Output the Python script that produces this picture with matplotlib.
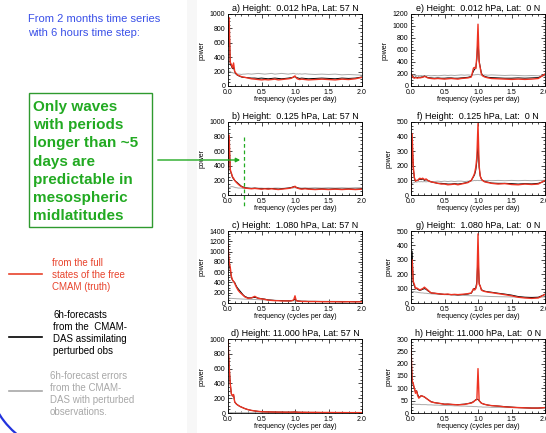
import matplotlib
matplotlib.use("Agg")
import matplotlib.pyplot as plt
from matplotlib.patches import Rectangle, FancyArrowPatch, Arc
from matplotlib.ticker import MultipleLocator, AutoMinorLocator

plt.rcParams['font.family'] = ['Liberation Sans', 'DejaVu Sans']

W, H = 546, 433

freq = [0.0, 0.017, 0.033, 0.05, 0.067, 0.083, 0.1, 0.117, 0.133, 0.15, 0.175, 0.2,
        0.225, 0.25, 0.3, 0.35, 0.4, 0.45, 0.5, 0.55, 0.6, 0.65, 0.7, 0.75, 0.8, 0.85,
        0.9, 0.933, 0.95, 0.967, 0.983, 1.0, 1.017, 1.033, 1.05, 1.067, 1.1, 1.15, 1.2,
        1.3, 1.4, 1.5, 1.6, 1.7, 1.8, 1.9, 2.0]

# panel a: 0.012 hPa, 57N
red_a = [600, 950, 330, 300, 250, 320, 200, 180, 160, 150, 140, 130, 125, 120, 110, 100, 95, 90, 85, 90, 85, 90, 95, 85, 90, 95, 100, 105, 110, 120, 130, 140, 115, 100, 95, 90, 95, 90, 85, 90, 95, 90, 85, 95, 90, 100, 120]
black_a = [550, 850, 300, 280, 240, 260, 200, 170, 155, 145, 135, 125, 120, 120, 115, 110, 110, 105, 110, 105, 100, 105, 110, 105, 100, 105, 110, 115, 115, 120, 125, 130, 120, 115, 110, 105, 110, 105, 100, 105, 110, 105, 100, 110, 105, 110, 125]
gray_a = [200, 210, 200, 190, 185, 180, 175, 170, 170, 165, 165, 160, 165, 165, 170, 165, 170, 175, 170, 165, 170, 175, 165, 170, 175, 170, 165, 170, 170, 175, 175, 170, 165, 170, 165, 170, 165, 170, 165, 160, 165, 160, 165, 155, 160, 155, 150]

# panel b: 0.125 hPa, 57N
red_b = [400, 820, 350, 300, 250, 230, 200, 180, 165, 150, 130, 115, 105, 95, 90, 85, 90, 85, 80, 85, 80, 85, 80, 75, 80, 85, 90, 95, 100, 105, 110, 120, 105, 95, 90, 85, 80, 85, 80, 75, 80, 75, 80, 75, 80, 75, 80]
black_b = [380, 750, 330, 300, 240, 220, 200, 185, 175, 160, 140, 120, 110, 100, 95, 90, 95, 90, 85, 90, 85, 90, 85, 80, 85, 90, 95, 100, 105, 110, 115, 115, 105, 100, 95, 90, 85, 90, 85, 80, 85, 80, 85, 80, 85, 80, 85]
gray_b = [80, 95, 110, 115, 115, 110, 105, 100, 100, 95, 95, 95, 90, 95, 90, 95, 90, 95, 95, 90, 95, 90, 95, 95, 90, 95, 95, 100, 100, 95, 100, 100, 95, 100, 95, 100, 95, 100, 95, 100, 95, 100, 95, 100, 95, 100, 100]

# panel c: 1.080 hPa, 57N
red_c = [1150, 800, 700, 520, 450, 420, 380, 330, 290, 250, 210, 180, 150, 120, 90, 100, 130, 90, 80, 70, 55, 50, 45, 45, 40, 40, 40, 40, 45, 50, 70, 140, 50, 40, 35, 35, 30, 30, 28, 28, 25, 25, 25, 22, 25, 22, 25]
black_c = [1000, 750, 650, 500, 440, 420, 400, 350, 310, 280, 240, 200, 160, 130, 100, 100, 110, 95, 85, 75, 60, 55, 50, 48, 45, 42, 42, 42, 45, 50, 60, 80, 50, 42, 38, 36, 32, 32, 30, 30, 28, 28, 27, 25, 27, 25, 27]
gray_c = [90, 95, 90, 90, 88, 88, 85, 85, 82, 82, 80, 78, 76, 75, 72, 70, 68, 65, 62, 60, 58, 55, 52, 50, 48, 46, 45, 44, 43, 42, 42, 42, 41, 40, 40, 39, 38, 37, 36, 35, 34, 33, 32, 31, 30, 30, 30]

# panel d: 11.000 hPa, 57N
red_d = [980, 650, 400, 260, 230, 250, 150, 130, 115, 105, 90, 80, 70, 60, 45, 35, 28, 22, 18, 16, 15, 14, 13, 12, 12, 11, 11, 11, 12, 12, 13, 15, 12, 11, 10, 10, 9, 9, 8, 8, 7, 7, 6, 6, 5, 5, 5]
black_d = [950, 640, 400, 260, 230, 245, 150, 130, 115, 105, 90, 80, 70, 60, 45, 35, 28, 22, 18, 16, 15, 14, 13, 12, 12, 11, 11, 11, 12, 12, 13, 14, 12, 11, 10, 10, 9, 9, 8, 8, 7, 7, 6, 6, 5, 5, 5]
gray_d = [6, 6, 5, 5, 5, 5, 5, 5, 5, 5, 5, 5, 4, 4, 4, 4, 4, 4, 4, 4, 4, 4, 4, 4, 3, 3, 3, 3, 3, 3, 3, 3, 3, 3, 3, 3, 3, 3, 3, 3, 3, 3, 3, 3, 3, 3, 3]

# panel e: 0.012 hPa, 0N
red_e = [200, 170, 140, 130, 140, 135, 130, 140, 135, 140, 145, 160, 150, 135, 125, 120, 125, 120, 115, 120, 125, 120, 115, 125, 130, 135, 150, 300, 310, 290, 500, 1030, 400, 300, 200, 170, 150, 135, 125, 120, 115, 110, 115, 110, 115, 125, 200]
black_e = [210, 180, 150, 140, 150, 145, 140, 150, 140, 150, 150, 165, 155, 140, 135, 130, 135, 130, 130, 135, 135, 130, 130, 135, 140, 145, 160, 250, 280, 300, 450, 800, 420, 320, 220, 180, 160, 145, 140, 135, 130, 130, 135, 130, 135, 140, 190]
gray_e = [190, 185, 180, 180, 175, 175, 170, 175, 170, 175, 170, 175, 170, 175, 170, 175, 170, 175, 180, 175, 180, 175, 180, 185, 180, 185, 180, 185, 185, 190, 190, 195, 190, 185, 185, 180, 185, 180, 185, 180, 175, 180, 175, 170, 175, 170, 170]

# panel f: 0.125 hPa, 0N
red_f = [30, 420, 200, 120, 95, 100, 100, 110, 115, 110, 115, 105, 110, 100, 90, 85, 80, 75, 75, 70, 72, 75, 70, 75, 80, 85, 100, 130, 150, 190, 260, 490, 200, 130, 110, 100, 90, 85, 80, 75, 78, 72, 70, 75, 72, 75, 100]
black_f = [40, 380, 190, 115, 95, 100, 100, 105, 110, 105, 110, 100, 105, 100, 90, 85, 80, 80, 78, 75, 75, 78, 75, 78, 82, 88, 100, 125, 140, 170, 230, 350, 190, 130, 110, 100, 92, 88, 82, 80, 80, 78, 75, 78, 76, 80, 95]
gray_f = [70, 80, 85, 85, 90, 88, 90, 92, 90, 92, 90, 92, 90, 92, 90, 92, 95, 92, 95, 92, 95, 92, 95, 95, 92, 95, 95, 98, 100, 98, 100, 100, 98, 100, 98, 100, 98, 100, 98, 100, 98, 100, 98, 100, 98, 100, 100]

# panel g: 1.080 hPa, 0N
red_g = [200, 300, 150, 130, 100, 105, 100, 95, 90, 95, 100, 110, 100, 90, 70, 68, 65, 62, 60, 62, 58, 60, 58, 60, 62, 65, 70, 100, 90, 100, 130, 480, 130, 120, 90, 85, 80, 75, 72, 65, 58, 50, 40, 35, 32, 35, 60]
black_g = [250, 360, 140, 120, 100, 100, 95, 90, 88, 90, 95, 100, 95, 85, 70, 68, 65, 62, 60, 60, 58, 58, 56, 58, 60, 62, 68, 95, 100, 105, 150, 330, 140, 115, 95, 88, 82, 78, 75, 68, 62, 55, 45, 40, 38, 40, 60]
gray_g = [75, 80, 80, 78, 76, 75, 74, 72, 72, 70, 70, 68, 68, 66, 64, 62, 60, 60, 58, 57, 56, 55, 54, 53, 52, 51, 50, 50, 50, 50, 50, 50, 49, 49, 48, 48, 47, 46, 45, 44, 43, 42, 41, 40, 40, 40, 42]

# panel h: 11.000 hPa, 0N
red_h = [270, 130, 120, 100, 80, 90, 70, 60, 65, 70, 68, 65, 60, 55, 45, 42, 40, 38, 35, 36, 35, 34, 33, 34, 35, 38, 40, 45, 50, 52, 55, 180, 50, 45, 40, 38, 35, 32, 30, 28, 25, 23, 22, 21, 20, 20, 22]
black_h = [250, 130, 115, 100, 85, 90, 75, 65, 65, 70, 68, 65, 60, 55, 46, 42, 40, 38, 36, 36, 35, 34, 34, 35, 36, 38, 42, 46, 50, 54, 56, 55, 50, 45, 40, 38, 35, 32, 30, 28, 26, 24, 22, 21, 20, 20, 22]
gray_h = [35, 36, 36, 36, 35, 35, 35, 35, 35, 34, 34, 34, 34, 33, 33, 32, 32, 31, 31, 30, 30, 29, 29, 28, 28, 27, 27, 26, 26, 26, 26, 25, 25, 25, 25, 24, 24, 24, 23, 23, 22, 22, 21, 21, 20, 20, 20]

titles = ["a) Height:  0.012 hPa, Lat: 57 N", "b) Height:  0.125 hPa, Lat: 57 N",
          "c) Height:  1.080 hPa, Lat: 57 N", "d) Height: 11.000 hPa, Lat: 57 N",
          "e) Height:  0.012 hPa, Lat:  0 N", "f) Height:  0.125 hPa, Lat:  0 N",
          "g) Height:  1.080 hPa, Lat:  0 N", "h) Height: 11.000 hPa, Lat:  0 N"]
ymaxes = [1000, 1000, 1400, 1000, 1200, 500, 500, 300]
ysteps = [200, 200, 200, 200, 200, 100, 100, 50]
series = [(red_a, black_a, gray_a), (red_b, black_b, gray_b), (red_c, black_c, gray_c),
          (red_d, black_d, gray_d), (red_e, black_e, gray_e), (red_f, black_f, gray_f),
          (red_g, black_g, gray_g), (red_h, black_h, gray_h)]

RED = '#ee3322'
GRAY = '#aaaaaa'

fig = plt.figure(figsize=(W / 100, H / 100), dpi=100)

# faint stripe
fig.add_artist(Rectangle((187 / W, 0), 10 / W, 1, transform=fig.transFigure,
                         facecolor='#f7f7f7', edgecolor='none', zorder=0))

col_x = [228, 411]
row_top = [14, 122, 231, 339]
row_bot = [86, 195, 303, 413]
axw = 134

axes = []
for i in range(8):
    c = i // 4
    r = i % 4
    left = col_x[c] / W
    bottom = 1 - row_bot[r] / H
    height = (row_bot[r] - row_top[r]) / H
    ax = fig.add_axes([left, bottom, axw / W, height])
    red, black, gray = series[i]
    ax.plot(freq, gray, color=GRAY, lw=0.7)
    ax.plot(freq, black, color='black', lw=0.7)
    ax.plot(freq, red, color=RED, lw=1.0)
    ax.set_xlim(0, 2.0)
    ax.set_ylim(0, ymaxes[i])
    ax.xaxis.set_major_locator(MultipleLocator(0.5))
    ax.xaxis.set_minor_locator(MultipleLocator(0.1))
    ax.yaxis.set_major_locator(MultipleLocator(ysteps[i]))
    ax.yaxis.set_minor_locator(AutoMinorLocator(4))
    ax.xaxis.set_major_formatter(matplotlib.ticker.FormatStrFormatter('%.1f'))
    ax.tick_params(which='both', direction='in', top=True, right=True, width=0.5,
                   labelsize=5, pad=2)
    ax.tick_params(which='major', length=3)
    ax.tick_params(which='minor', length=1.5)
    for s in ax.spines.values():
        s.set_linewidth(0.6)
    ax.set_title(titles[i], fontsize=6.5, pad=2.5)
    ax.set_xlabel('frequency (cycles per day)', fontsize=5, labelpad=0.5)
    ax.set_ylabel('power', fontsize=5, labelpad=3)
    axes.append(ax)

# dashed cut-off line in panel b
axb = axes[1]
axb.plot([0.24, 0.24], [795, -178], color='#22aa22', lw=0.9, dashes=(3, 2.2),
         clip_on=False, zorder=5)

def fx(x):
    return x / W

def fy(y):
    return 1 - y / H

BLUE = '#3a50e8'
fig.text(fx(28), fy(19), 'From 2 months time series', color=BLUE, fontsize=8, va='center')
fig.text(fx(28), fy(33), 'with 6 hours time step:', color=BLUE, fontsize=8, va='center')

GREEN = '#22aa22'
fig.add_artist(Rectangle((fx(29), fy(227)), (152 - 29) / W, (227 - 93) / H,
                         transform=fig.transFigure, facecolor='none',
                         edgecolor='#2f9a2f', lw=1.0))
glines = ["Only waves", "with periods", "longer than ~5", "days are",
          "predictable in", "mesospheric", "midlatitudes"]
for k, t in enumerate(glines):
    fig.text(fx(33), fy(106.7 + 18.3 * k), t, color=GREEN, fontsize=11,
             fontweight='bold', va='center')

fig.add_artist(FancyArrowPatch((fx(155), fy(160)), (fx(243), fy(160)),
                               transform=fig.transFigure, arrowstyle='-|>',
                               mutation_scale=6, color=GREEN, lw=1.0))

# legend-like annotations
def leg(y_line, x_text, ys, lines, color, lcol):
    fig.add_artist(plt.Line2D([fx(9), fx(42)], [fy(y_line), fy(y_line)],
                              transform=fig.transFigure, color=lcol, lw=1.2))
    for yy, t in zip(ys, lines):
        fig.text(fx(x_text), fy(yy), t, color=color, fontsize=7, va='center')

leg(274.3, 51.5, [263.3, 275, 286.7],
    ["from the full", "states of the free", "CMAM (truth)"], '#e8432c', '#e8432c')
leg(337.3, 53, [315, 327.3, 339.3, 351],
    ["6h-forecasts", "from the  CMAM-", "DAS assimilating", "perturbed obs"], 'black', 'black')
leg(390.7, 50, [376, 388.3, 400, 411.7],
    ["6h-forecast errors", "from the CMAM-", "DAS with perturbed", "observations."],
    '#a8a8a8', '#a8a8a8')

# blue arc at bottom-left
fig.add_artist(Arc((fx(70), fy(370)), 2 * 83.4 / W, 2 * 83.4 / H,
                   theta1=200, theta2=245, transform=fig.transFigure,
                   color='#2233dd', lw=1.6))

fig.savefig('out.png', dpi=100)
